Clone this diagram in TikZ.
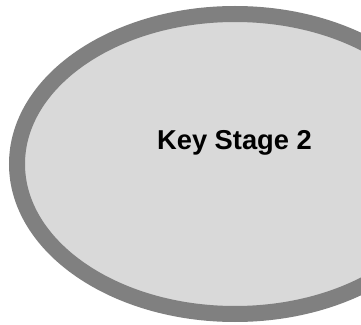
\documentclass[tikz,border=0pt]{standalone}
\usepackage{fontspec}
\setmainfont{Liberation Sans}
\usetikzlibrary{shapes.geometric}
\definecolor{ringgray}{RGB}{128,128,128}
\definecolor{fillgray}{RGB}{217,217,217}
\tikzset{
  stageoval/.style={ellipse, draw=ringgray, fill=fillgray, line width=16bp,
    minimum width=436bp, minimum height=300bp, inner sep=0pt, outer sep=0pt},
  stagetext/.style={font=\fontsize{27.3bp}{32bp}\selectfont\bfseries, text=black, inner sep=0pt}
}
\begin{document}
\begin{tikzpicture}[x=1bp,y=1bp]
\useasboundingbox (0,0) rectangle (361,325);
\begin{scope}
\clip (0,0) rectangle (361,325);
\node[stageoval] (ks2) at (235,161) {};
\end{scope}
\node[stagetext, anchor=base] (ks2label) at (234.5,175.7) {Key Stage 2};
\end{tikzpicture}
\end{document}
